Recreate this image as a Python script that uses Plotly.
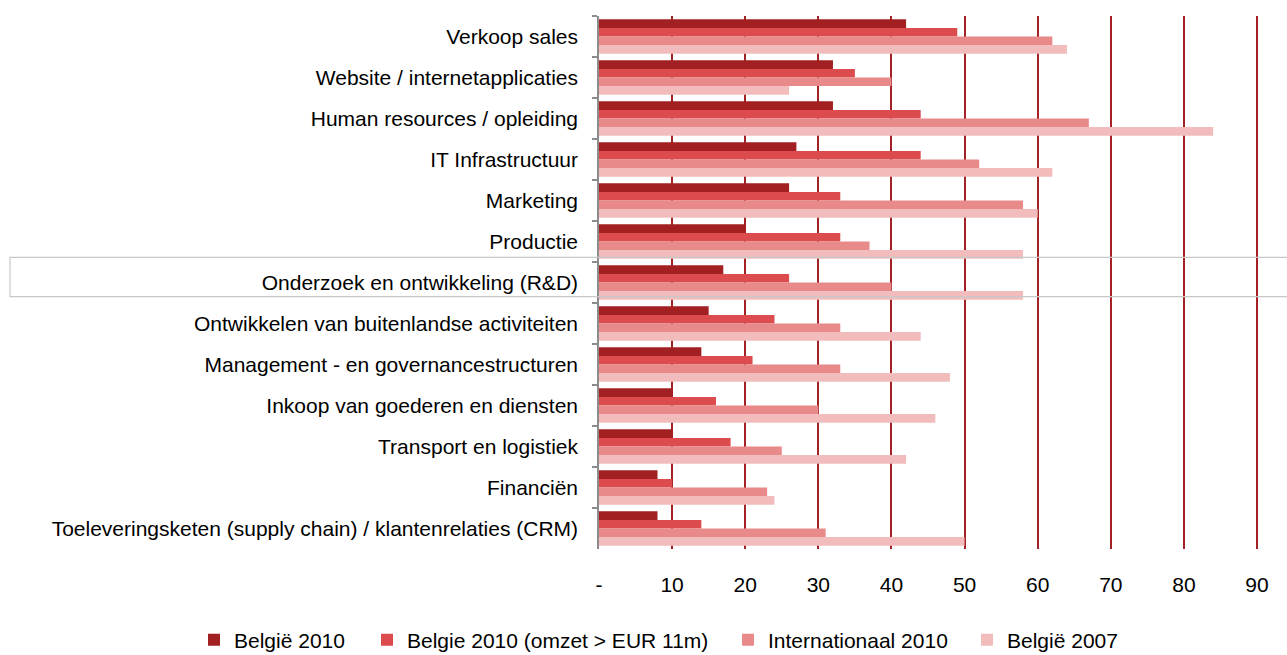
import plotly.graph_objects as go

categories = [
    "Verkoop sales",
    "Website / internetapplicaties",
    "Human resources / opleiding",
    "IT Infrastructuur",
    "Marketing",
    "Productie",
    "Onderzoek en ontwikkeling (R&D)",
    "Ontwikkelen van buitenlandse activiteiten",
    "Management - en governancestructuren",
    "Inkoop van goederen en diensten",
    "Transport en logistiek",
    "Financiën",
    "Toeleveringsketen (supply chain) / klantenrelaties (CRM)",
]

belgie_2010 = [42, 32, 32, 27, 26, 20, 17, 15, 14, 10, 10, 8, 8]
belgie_2010_groot = [49, 35, 44, 44, 33, 33, 26, 24, 21, 16, 18, 10, 14]
internationaal_2010 = [62, 40, 67, 52, 58, 37, 40, 33, 33, 30, 25, 23, 31]
belgie_2007 = [64, 26, 84, 62, 60, 58, 58, 44, 48, 46, 42, 24, 50]

series_names = ["België 2010", "Belgie 2010 (omzet > EUR 11m)", "Internationaal 2010", "België 2007"]
series_values = [belgie_2010, belgie_2010_groot, internationaal_2010, belgie_2007]
colors = ["#A21F22", "#DC4C4E", "#E88A8A", "#F2BCBC"]

tick_vals = [0, 10, 20, 30, 40, 50, 60, 70, 80, 90]
tick_text = ["-", "10", "20", "30", "40", "50", "60", "70", "80", "90"]

FONT = "Liberation Sans, Arial, sans-serif"
legend_ids = ["legend", "legend2", "legend3", "legend4"]
legend_x_px = [194, 367, 728, 967]

fig = go.Figure()
for name, vals, col, lid in zip(series_names, series_values, colors, legend_ids):
    fig.add_trace(go.Bar(
        y=categories, x=vals, name=name, orientation="h", legend=lid,
        marker=dict(color=col, line=dict(width=0)),
    ))

layout_legends = {}
for lid, xp in zip(legend_ids, legend_x_px):
    layout_legends[lid] = dict(
        orientation="h", xref="container", yref="container",
        x=xp / 1287, xanchor="left", y=1 - 640 / 655, yanchor="middle",
        font=dict(size=21), itemwidth=30,
        bgcolor="rgba(0,0,0,0)", borderwidth=0,
    )

fig.update_layout(
    width=1287, height=655,
    margin=dict(l=599, r=28, t=16, b=106, autoexpand=False),
    paper_bgcolor="white", plot_bgcolor="white",
    barmode="group", bargap=0.16, bargroupgap=0,
    font=dict(family=FONT, size=21, color="#000000"),
    showlegend=True,
    **layout_legends,
)

fig.update_xaxes(
    range=[0, 90.27], tickvals=tick_vals, ticktext=tick_text,
    showgrid=True, gridcolor="#A32226", gridwidth=2,
    zeroline=False, showline=False, ticks="", automargin=False,
    ticklabelstandoff=21, tickfont=dict(size=21),
)
fig.update_yaxes(
    autorange="reversed", type="category", automargin=False,
    showline=True, linecolor="#8C8C8C", linewidth=1.5,
    ticks="outside", tickson="boundaries", ticklen=5, tickcolor="#8C8C8C", tickwidth=1.5,
    showgrid=False, ticklabelstandoff=15, tickfont=dict(size=21),
)

# highlight frame around the R&D row (as in the reference)
fig.add_shape(
    type="rect", xref="paper", yref="paper",
    x0=(10 - 599) / 660, x1=(1300 - 599) / 660,
    y0=1 - (296.7 - 16) / 533, y1=1 - (257.3 - 16) / 533,
    line=dict(color="#C8C8C8", width=1.2), fillcolor="rgba(0,0,0,0)", layer="above",
)

fig.write_html(
    "out.html",
    config={"displayModeBar": False},
    post_script="document.body.style.margin='0';document.body.style.overflow='hidden';",
)
